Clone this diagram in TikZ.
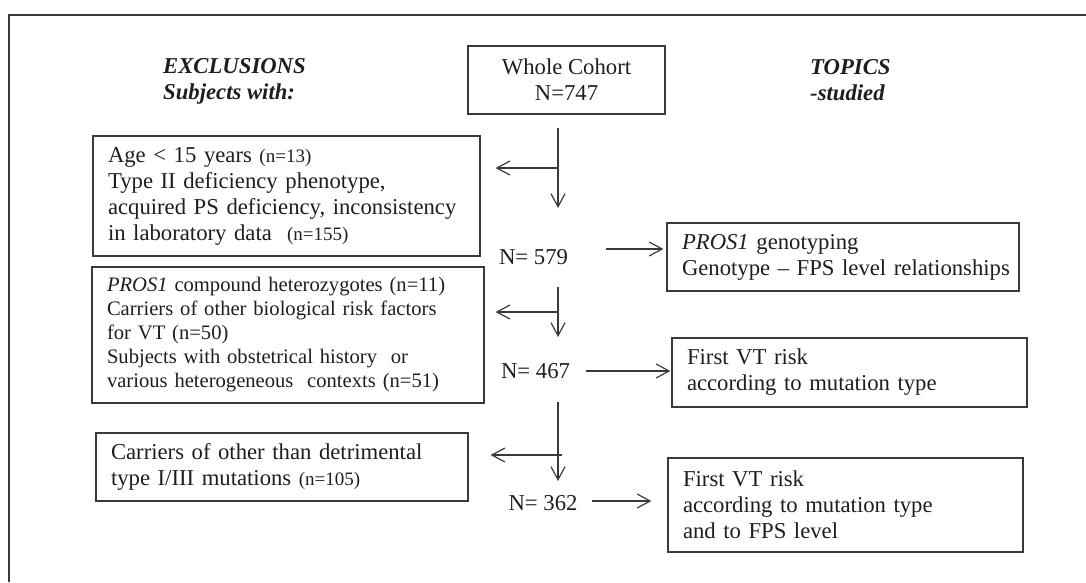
\documentclass[tikz,border=0pt]{standalone}
\usepackage{fontspec}
\setmainfont{Liberation Serif}
\usetikzlibrary{arrows.meta}
\definecolor{linec}{HTML}{3A3A3A}
\definecolor{txtc}{HTML}{1E1E1E}
\newcommand\fA{\fontsize{22.7}{26}\selectfont}
\newcommand\fB{\fontsize{20.6}{24}\selectfont}
\newcommand\fS{\fontsize{19}{22}\selectfont}
\newcommand\keepline[1]{\mbox{#1}}
\tikzset{
  box/.style={draw=linec, line width=1.2pt, rectangle, inner xsep=15pt, inner ysep=0pt,
    align=left, font=\fA, text=txtc},
  cbox/.style={draw=linec, line width=1.2pt, rectangle, inner sep=0pt, align=center,
    font=\fA, text=txtc},
  head/.style={inner sep=0pt, align=left, font=\fA\bfseries\itshape, text=txtc},
  nlab/.style={inner sep=0pt, font=\fA, text=txtc},
  trunk/.style={draw=linec, line width=1.2pt},
  arr/.style={draw=linec, line width=1.2pt,
    -{Straight Barb[length=13pt,width=14pt,line width=1.2pt]}},
  frame/.style={draw=linec, line width=1.4pt},
}
\begin{document}
\begin{tikzpicture}[x=1pt,y=-1pt]
\useasboundingbox (0,0) rectangle (1086,582);
% frame (open at right and bottom)
\coordinate (fbl) at (9,582);
\coordinate (ftl) at (9,15);
\coordinate (ftr) at (1086,15);
\draw[frame] (fbl) -- (ftl) -- (ftr);

% headings
\node[head, anchor=west] (hex) at (163,81) {EXCLUSIONS\\Subjects with:};
\node[head, anchor=west] (htop) at (810,80) {TOPICS\\-studied};

% cohort
\node[cbox, minimum width=197pt, minimum height=68pt] (cohort) at (566.5,80) {Whole Cohort\\N=747};

% exclusion boxes
\node[box, text width=357pt, minimum height=120pt] (ex1) at (286.5,196)
 {\keepline{Age < 15 years {\fS(n=13)}}\\
  \keepline{Type II deficiency phenotype,}\\
  \keepline{acquired PS deficiency, inconsistency}\\
  \keepline{in laboratory data \ {\fS(n=155)}}};
\node[box, font=\fB, text width=362pt, minimum height=136pt] (ex2) at (288,335)
 {\keepline{\textit{PROS1} compound heterozygotes (n=11)}\\
  \keepline{Carriers of other biological risk factors}\\
  \keepline{for VT (n=50)}\\
  \keepline{Subjects with obstetrical history \ or}\\
  \keepline{various heterogeneous \ contexts (n=51)}};
\node[box, text width=342pt, minimum height=68pt] (ex3) at (282,467)
 {\keepline{Carriers of other than detrimental}\\
  \keepline{type I/III mutations {\fS(n=105)}}};

% topic boxes
\node[box, text width=322pt, minimum height=68pt] (t1) at (843,257)
 {\keepline{\textit{PROS1} genotyping}\\
  \keepline{Genotype – FPS level relationships}};
\node[box, text width=325pt, minimum height=69pt] (t2) at (849.5,372.5)
 {\keepline{First VT risk}\\
  \keepline{according to mutation type}};
\node[box, text width=325pt, minimum height=94pt] (t3) at (845.5,505)
 {\keepline{First VT risk}\\
  \keepline{according to mutation type}\\
  \keepline{and to FPS level}};

% N labels
\node[nlab] (n579) at (533.5,257) {N= 579};
\node[nlab] (n467) at (535.5,371) {N= 467};
\node[nlab] (n362) at (543,503) {N= 362};

% trunk 1
\coordinate (a1) at (558,128);
\coordinate (a1e) at (558,208);
\coordinate (b1) at (558,168);
\draw[arr] (a1) -- (a1e);
\draw[arr, shorten >=15pt] (b1) -- (b1 -| ex1.east);

% trunk 2
\coordinate (a2) at (558,287);
\coordinate (a2e) at (558,337);
\coordinate (b2) at (558,312);
\draw[arr] (a2) -- (a2e);
\draw[arr, shorten >=11pt] (b2) -- (b2 -| ex2.east);

% trunk 3
\coordinate (a3) at (558,402);
\coordinate (a3e) at (558,481);
\coordinate (b3) at (562,455);
\draw[arr] (a3) -- (a3e);
\draw[arr, shorten >=22pt] (b3) -- (b3 -| ex3.east);

% arrows to topics
\coordinate (s579) at (606,249);
\coordinate (s467) at (586,371);
\coordinate (s362) at (592,501);
\draw[arr, shorten >=3pt] (s579) -- (s579 -| t1.west);
\draw[arr, shorten >=1pt] (s467) -- (s467 -| t2.west);
\draw[arr, shorten >=16pt] (s362) -- (s362 -| t3.west);
\end{tikzpicture}
\end{document}
